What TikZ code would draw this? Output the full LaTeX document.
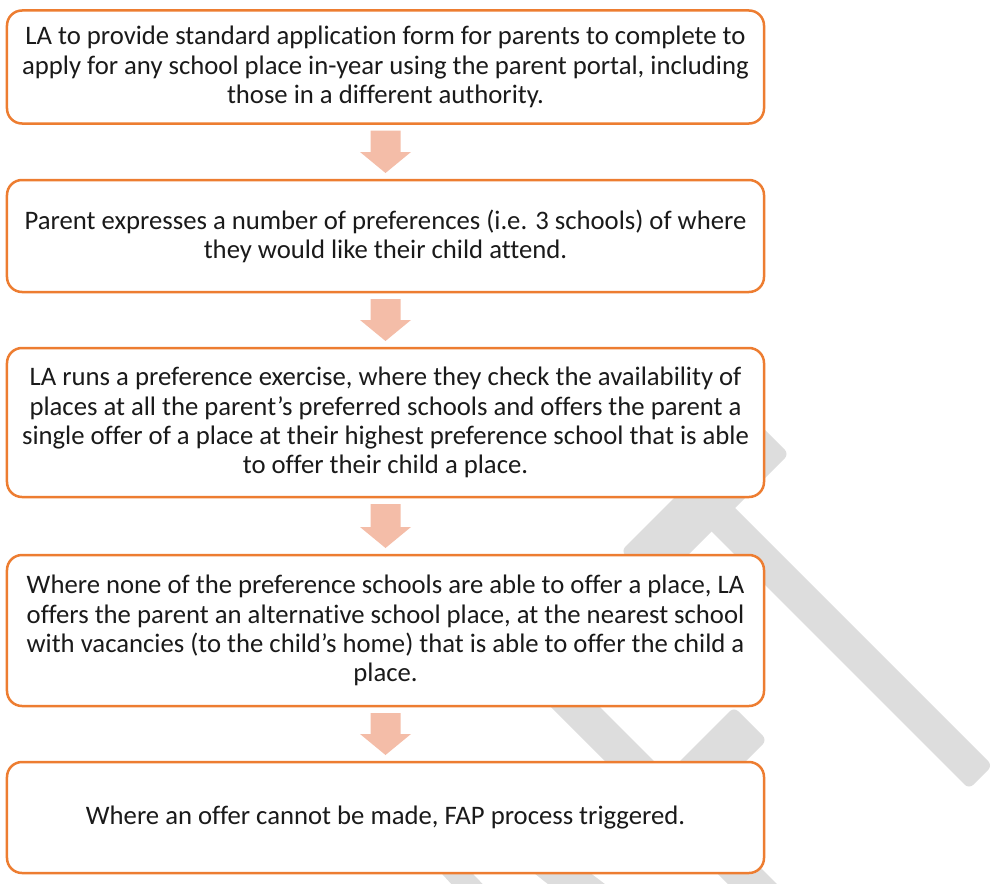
\documentclass[tikz,border=0pt]{standalone}
\usepackage{fontspec}
\setmainfont{Carlito}[Ligatures=NoCommon]
\usetikzlibrary{calc}
\definecolor{boxorange}{RGB}{237,125,49}
\definecolor{arrowpink}{RGB}{244,189,168}
\definecolor{wmgray}{RGB}{221,221,221}
\definecolor{textdark}{RGB}{26,26,26}
\tikzset{
  flowbox/.style={draw=boxorange, line width=2.5bp, fill=white, rounded corners=15bp,
    minimum width=757bp, inner sep=0pt, outer sep=0pt, align=center, text=textdark,
    font=\fontsize{26.7bp}{29.2bp}\selectfont},
  wmark/.style={fill=wmgray, rounded corners=6bp},
  wbit/.style={fill=wmgray},
  blockarrow/.style={fill=arrowpink}
}
\newcommand{\flowarrow}[2]{%
  \fill[blockarrow] ($(#1.south)+(-15,7)$) -- ($(#1.south)+(15,7)$)
    -- ($(#2.north)+(15,-28)$) -- ($(#2.north)+(25.5,-28)$)
    -- ($(#2.north)+(0,-7)$) -- ($(#2.north)+(-25.5,-28)$)
    -- ($(#2.north)+(-15,-28)$) -- cycle;}
\begin{document}
\begin{tikzpicture}[x=1bp,y=-1bp]
\useasboundingbox (0,0) rectangle (993,884);
\clip (0,0) rectangle (993,884);
% background watermark shapes
\fill[wmark] (621,551) -- (753.5,418.5) -- (789,454) -- (656.5,586.5) -- cycle;
\fill[wmark] (690,510) -- (713.5,486.5) -- (992.5,765.5) -- (969,789) -- cycle;
\fill[wmark] (422,578) -- (446.5,553.5) -- (946.5,1053.5) -- (922,1078) -- cycle;
\fill[wmark] (655.5,785.5) -- (734,707) -- (767,740) -- (688.5,818.5) -- cycle;
\fill[wbit] (420,850) -- (450,850) -- (498,900) -- (466,900) -- cycle;
\fill[wbit] (505,850) -- (560,850) -- (626,900) -- (568,900) -- cycle;
% boxes
\node[flowbox, minimum height=113bp] (b1) at (385.5,67)
  {LA to provide standard application form for parents to complete to\\
   apply for any school place in-year using the parent portal, including\\
   those in a different authority.};
\node[flowbox, minimum height=112bp] (b2) at (385.5,236)
  {Parent expresses a number of preferences (i.e. 3 schools) of where\\
   they would like their child attend.};
\node[flowbox, minimum height=149bp] (b3) at (385.5,422.5)
  {LA runs a preference exercise, where they check the availability of\\
   places at all the parent’s preferred schools and offers the parent a\\
   single offer of a place at their highest preference school that is able\\
   to offer their child a place.};
\node[flowbox, minimum height=151bp] (b4) at (385.5,630.5)
  {Where none of the preference schools are able to offer a place, LA\\
   offers the parent an alternative school place, at the nearest school\\
   with vacancies (to the child’s home) that is able to offer the child a\\
   place.};
\node[flowbox, minimum height=111bp] (b5) at (385.5,817.5)
  {Where an offer cannot be made, FAP process triggered.};
% arrows
\flowarrow{b1}{b2}
\flowarrow{b2}{b3}
\flowarrow{b3}{b4}
\flowarrow{b4}{b5}
\end{tikzpicture}
\end{document}
